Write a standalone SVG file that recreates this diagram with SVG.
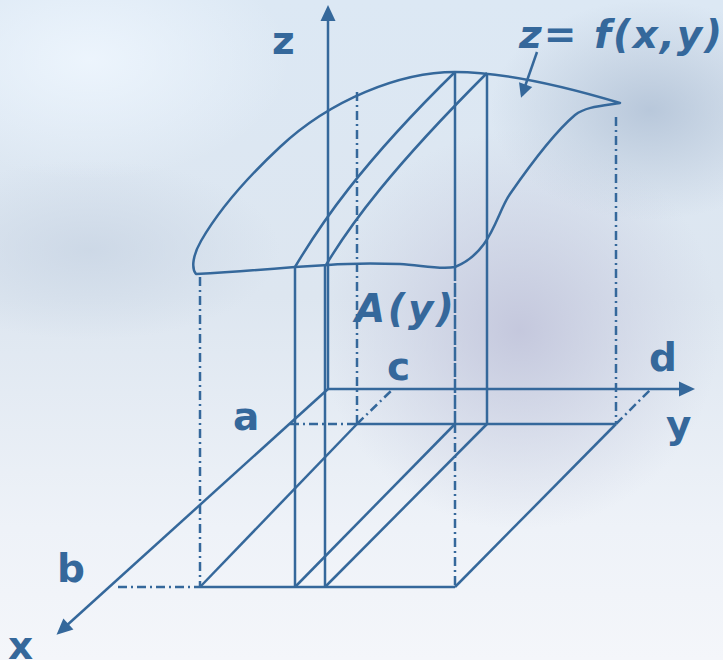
<svg xmlns="http://www.w3.org/2000/svg" width="723" height="660" viewBox="0 0 723 660">
<style>
.ln{fill:none;stroke:#35689b;stroke-width:2.5;stroke-linejoin:round}
.dd{fill:none;stroke:#35689b;stroke-width:2.5;stroke-dasharray:9,4,2,4}
.lbl{font-family:"DejaVu Sans","Liberation Sans",sans-serif;font-weight:bold;font-size:39px;fill:#35689b}
.it{font-style:italic}
</style>
<defs>
<linearGradient id="bg" x1="0" y1="0" x2="0" y2="1">
<stop offset="0" stop-color="#dce8f4"/>
<stop offset="0.45" stop-color="#dde6f0"/>
<stop offset="0.8" stop-color="#eef2f8"/>
<stop offset="1" stop-color="#f4f6fa"/>
</linearGradient>
<radialGradient id="pur" cx="0.5" cy="0.5" r="0.5">
<stop offset="0" stop-color="#c3c6dc" stop-opacity="0.95"/>
<stop offset="1" stop-color="#c8cde0" stop-opacity="0"/>
</radialGradient>
<radialGradient id="tr" cx="0.5" cy="0.5" r="0.5">
<stop offset="0" stop-color="#b4c4d8" stop-opacity="0.9"/>
<stop offset="1" stop-color="#b8c6d8" stop-opacity="0"/>
</radialGradient>
<radialGradient id="tl" cx="0.5" cy="0.5" r="0.5">
<stop offset="0" stop-color="#edf5fd" stop-opacity="0.95"/>
<stop offset="1" stop-color="#edf5fd" stop-opacity="0"/>
</radialGradient>
<radialGradient id="lm" cx="0.5" cy="0.5" r="0.5">
<stop offset="0" stop-color="#c9d5e4" stop-opacity="0.8"/>
<stop offset="1" stop-color="#c9d5e4" stop-opacity="0"/>
</radialGradient>
<marker id="ah" markerUnits="userSpaceOnUse" markerWidth="24" markerHeight="20" viewBox="-14 -10 24 20" refX="0" refY="0" orient="auto">
<path d="M4,0 L-12,-7.5 L-12,7.5 Z" fill="#35689b"/>
</marker>
<marker id="ahs" markerUnits="userSpaceOnUse" markerWidth="20" markerHeight="18" viewBox="-12 -9 20 18" refX="0" refY="0" orient="auto">
<path d="M3,0 L-11,-7 L-11,7 Z" fill="#35689b"/>
</marker>
</defs>

<g id="background">
<rect x="0" y="0" width="723" height="660" fill="url(#bg)"/>
<ellipse cx="90" cy="250" rx="190" ry="90" fill="url(#lm)"/>
<ellipse cx="90" cy="60" rx="200" ry="120" fill="url(#tl)"/>
<ellipse cx="520" cy="330" rx="200" ry="200" fill="url(#pur)"/>
<ellipse cx="650" cy="110" rx="160" ry="110" fill="url(#tr)"/>
</g>

<g id="axes">
<line class="ln" x1="328" y1="389" x2="328" y2="9" marker-end="url(#ah)"/>
<line class="ln" x1="328" y1="389" x2="691" y2="389" marker-end="url(#ah)"/>
<line class="ln" x1="328" y1="389" x2="59.5" y2="632" marker-end="url(#ah)"/>
</g>

<g id="base">
<line class="ln" x1="357" y1="424" x2="616" y2="424"/>
<line class="ln" x1="200" y1="587" x2="455" y2="587"/>
<line class="ln" x1="357" y1="424" x2="200" y2="587"/>
<line class="ln" x1="616" y1="424" x2="455" y2="587"/>
<line class="dd" x1="290" y1="424" x2="357" y2="424"/>
<line class="dd" x1="118" y1="587" x2="200" y2="587"/>
<line class="dd" x1="357" y1="424" x2="393" y2="389"/>
<line class="dd" x1="616" y1="424" x2="651" y2="389"/>
</g>

<g id="projections">
<line class="dd" x1="200" y1="277" x2="200" y2="587"/>
<line class="dd" x1="357" y1="92" x2="357" y2="424"/>
<line class="dd" x1="616" y1="117" x2="616" y2="424"/>
<line class="ln" x1="455" y1="72" x2="455" y2="267"/>
<line class="ln" x1="455" y1="267" x2="455" y2="424" stroke-dasharray="14,2"/>
<line class="dd" x1="455" y1="424" x2="455" y2="587"/>
</g>

<g id="slice">
<line class="ln" x1="295" y1="267" x2="295" y2="587"/>
<line class="ln" x1="325" y1="265" x2="325" y2="587"/>
<line class="ln" x1="487" y1="73" x2="487" y2="424"/>
<line class="ln" x1="455" y1="424" x2="295" y2="587"/>
<line class="ln" x1="487" y1="424" x2="325" y2="587"/>
<path class="ln" d="M295,267 C320,225 360,165 455,72"/>
<path class="ln" d="M326,265 C350,225 390,170 487,73"/>
</g>

<g id="surface">
<path class="ln" d="M196,274 C191,268 193,255 201,241 C220,208 250,175 280,147 C330,100 400,72 455,72 C500,72 560,85 620,103 C600,106 585,107 575,115 C555,132 528,168 510,194 C496,214 492,252 455,267 C440,270 420,265 400,264 C370,263 340,264 328,265 L295,267 C270,269 230,272 196,274 Z"/>
</g>

<g id="pointer">
<line class="ln" x1="537" y1="52" x2="522" y2="95" marker-end="url(#ahs)"/>
</g>

<g id="labels">
<text class="lbl" x="272" y="54">z</text>
<text class="lbl it" x="519" y="48" letter-spacing="2">z= f(x,y)</text>
<text class="lbl it" x="355" y="322" font-size="40" letter-spacing="2.5">A(y)</text>
<text class="lbl" x="387" y="380">c</text>
<text class="lbl" x="233" y="430">a</text>
<text class="lbl" x="649" y="371">d</text>
<text class="lbl" x="666" y="438">y</text>
<text class="lbl" x="57" y="582">b</text>
<text class="lbl" x="8" y="659">x</text>
</g>
</svg>
